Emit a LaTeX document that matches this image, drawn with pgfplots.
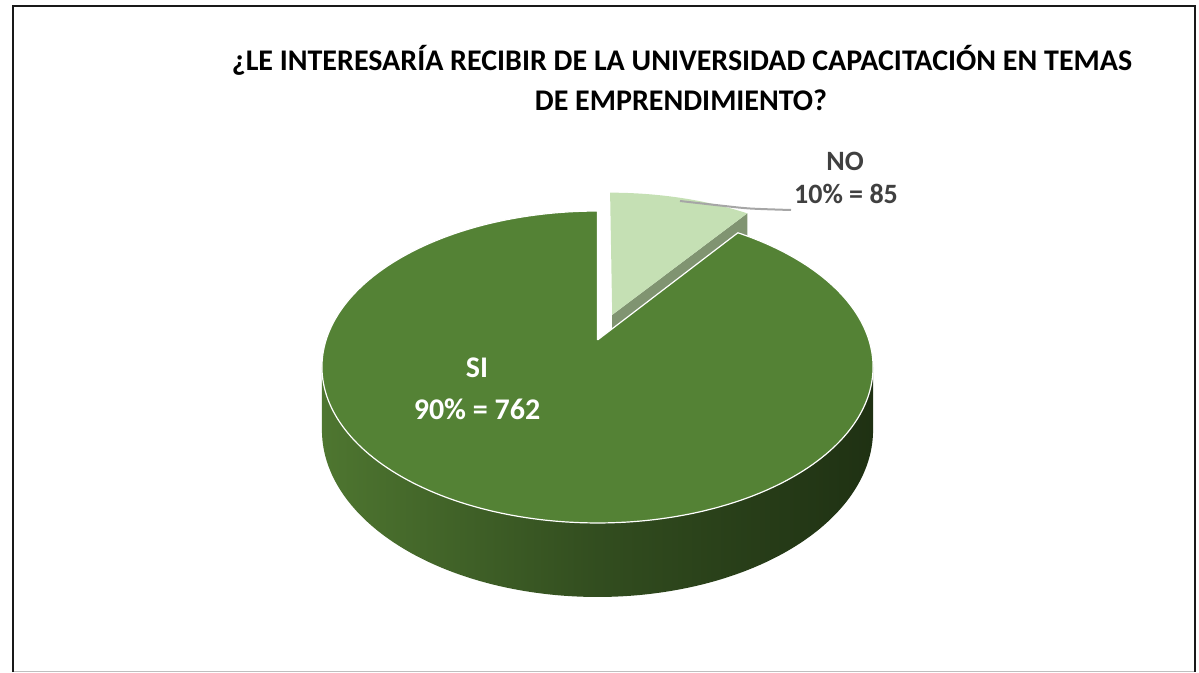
\documentclass[border=0pt]{standalone}
\usepackage{pgfplots}
\pgfplotsset{compat=1.18}
\usepackage{pgfplotstable}
\usepackage{fontspec}
\setmainfont{Carlito}
\definecolor{siTop}{RGB}{84,130,53}
\definecolor{noTop}{RGB}{197,224,180}
\definecolor{noSide}{RGB}{128,148,113}
\definecolor{sideL}{RGB}{78,118,48}
\definecolor{sideM}{RGB}{50,77,31}
\definecolor{sideR}{RGB}{31,49,19}
\definecolor{lbl}{RGB}{64,64,64}
\definecolor{leader}{RGB}{166,166,166}

\pgfplotstableread{
label value
SI 762
NO 85
}\piedata
\pgfplotstablegetelem{0}{value}\of\piedata \edef\vSI{\pgfplotsretval}%
\pgfplotstablegetelem{1}{value}\of\piedata \edef\vNO{\pgfplotsretval}%
\pgfmathsetmacro{\angNO}{360*(\vNO/(\vSI+\vNO))}%
\pgfmathsetmacro{\angSI}{360*(\vSI/(\vSI+\vNO))}%
\pgfmathsetmacro{\tB}{90-\angNO}%
\pgfmathsetmacro{\tA}{\tB-\angSI}%
\pgfmathsetmacro{\dA}{\tA-2}%
\pgfmathsetmacro{\dB}{\tB+2}%
\pgfmathsetmacro{\dN}{\tB-2}%
\pgfmathsetmacro{\tmid}{90-\angNO/2}%
\pgfmathsetmacro{\ox}{0.18*cos(\tmid)}%
\pgfmathsetmacro{\oy}{0.18*sin(\tmid)}%
\pgfmathsetmacro{\ts}{asin(0.1731)}%

\begin{document}%
\begin{tikzpicture}
\begin{axis}[
  width=599.5pt, height=336pt, scale only axis,
  xmin=0, xmax=1199, ymin=0, ymax=672, y dir=reverse,
  hide axis, clip=false,
  declare function={
    PX(\X,\Y)=597.5+271.4*\X/(1+0.1731*\Y);
    PY(\X,\Y,\Z)=340-(151.3*\Y-61.2*\Z)/(1+0.1731*\Y);
    cl(\t,\a,\b)=max(\a,min(\b,\t));
    rr(\t,\a,\b)=ifthenelse(or(\t<\a-1,\t>\b+1),0,1);
    qq(\t)=ifthenelse(and(\t>0.5,\t<2.5),1,0);
    sa(\t)=ifthenelse(\t>1,-\ts-(180-2*\ts)*(\t-1),-180+\ts+(180-2*\ts)*\t);
  },
]
% page extent
\path (axis cs:0,0) rectangle (axis cs:1199,672);
% frame
\draw[black!90, line width=1pt] (axis cs:13,672) -- (axis cs:13,6) -- (axis cs:1195,6) -- (axis cs:1195,672);
\draw[black!25, line width=0.5pt] (axis cs:14,671) -- (axis cs:1194,671);

% NO radial face
\addplot[fill=noSide, draw=none, samples at={0,1,2,3}]
  ({PX(\ox+qq(x)*cos(\tB), \oy+qq(x)*sin(\tB))},
   {PY(\ox+qq(x)*cos(\tB), \oy+qq(x)*sin(\tB), ifthenelse(x>1.5,1,0))});
% NO top
\addplot[fill=noTop, draw=none, domain=\dN:92, samples=90]
  ({PX(\ox+rr(x,\tB,90)*cos(cl(x,\tB,90)), \oy+rr(x,\tB,90)*sin(cl(x,\tB,90)))},
   {PY(\ox+rr(x,\tB,90)*cos(cl(x,\tB,90)), \oy+rr(x,\tB,90)*sin(cl(x,\tB,90)), 0)});
% SI side
\addplot[left color=sideL, right color=sideR, middle color=sideM, draw=none, domain=0:2, samples=321]
  ({PX(cos(sa(x)), sin(sa(x)))},
   {PY(cos(sa(x)), sin(sa(x)), ifthenelse(x>1,1,0))});
% SI top
\addplot[fill=siTop, draw=white, line width=0.6pt, line join=round, domain=\dA:\dB, samples=520]
  ({PX(rr(x,\tA,\tB)*cos(cl(x,\tA,\tB)), rr(x,\tA,\tB)*sin(cl(x,\tA,\tB)))},
   {PY(rr(x,\tA,\tB)*cos(cl(x,\tA,\tB)), rr(x,\tA,\tB)*sin(cl(x,\tA,\tB)), 0)});

% leader line
\addplot[leader, line width=1pt, smooth] coordinates {(680,201) (720,205.5) (750,208.5) (791,210)};

% title
\node[anchor=base, font=\bfseries\fontsize{15}{18}\selectfont] at (axis cs:682,71) {¿LE INTERESARÍA RECIBIR DE LA UNIVERSIDAD CAPACITACIÓN EN TEMAS};
\node[anchor=base, font=\bfseries\fontsize{15}{18}\selectfont] at (axis cs:681,111) {DE EMPRENDIMIENTO?};

% labels
\node[anchor=base, text=lbl, font=\bfseries\fontsize{14}{17}\selectfont] at (axis cs:845,171) {NO};
\node[anchor=base, text=lbl, font=\bfseries\fontsize{14}{17}\selectfont] at (axis cs:846,204) {10\% = 85};
\node[anchor=base, text=white, font=\bfseries\fontsize{15}{18}\selectfont] at (axis cs:477,378) {SI};
\node[anchor=base, text=white, font=\bfseries\fontsize{15}{18}\selectfont] at (axis cs:477,420) {90\% = 762};
\end{axis}
\end{tikzpicture}%
\end{document}
